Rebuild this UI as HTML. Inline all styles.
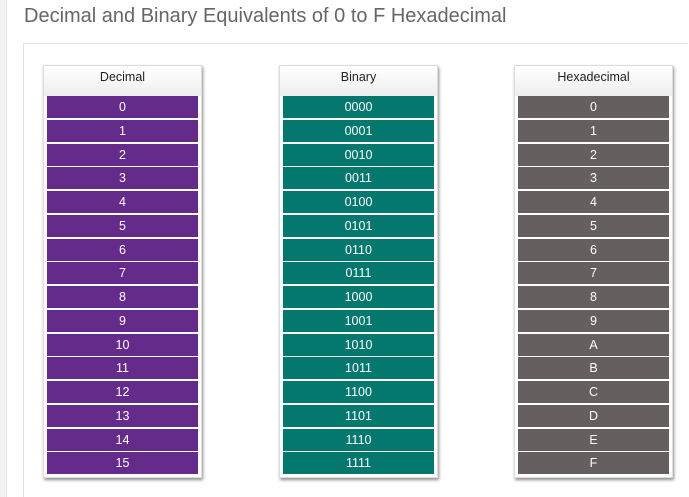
<!DOCTYPE html>
<html><head><meta charset="utf-8"><style>
html,body{margin:0;width:689px;height:497px;overflow:hidden}
body{background:#fff;position:relative;font-family:"Liberation Sans",sans-serif}
#leftline{position:absolute;left:0;top:0;width:6px;height:497px;background:#f3f3f3;border-right:1px solid #e4e4e4}
#title{position:absolute;left:24px;top:5px;font-size:20px;color:#666;white-space:nowrap}
#box{position:absolute;left:23px;top:43px;width:665px;height:454px;border:1px solid #e2e2e2;border-bottom:none;border-right:none;box-sizing:border-box}
.card{position:absolute;top:65px;width:159px;height:413px;background:#fff;box-shadow:1px 2px 3px rgba(0,0,0,.45);border:1px solid #ddd;box-sizing:border-box}
.hdr{position:absolute;left:0;top:0;width:100%;height:30px;background:linear-gradient(#fff,#eee);text-align:center;line-height:22px;font-size:12.5px;color:#222}
.cell{position:absolute;left:3px;width:151px;height:22px;color:#fff;text-align:center;line-height:22px;font-size:12.5px}
</style></head><body>
<div id="leftline"></div>
<div id="title">Decimal and Binary Equivalents of 0 to F Hexadecimal</div>
<div id="box"></div>
<div id="c0" class="card" style="left:43px"><div class="hdr">Decimal</div></div>
<div id="c1" class="card" style="left:279px"><div class="hdr">Binary</div></div>
<div id="c2" class="card" style="left:514px"><div class="hdr">Hexadecimal</div></div>
<script>
const decimals=["0","1","2","3","4","5","6","7","8","9","10","11","12","13","14","15"];
const binaries=["0000","0001","0010","0011","0100","0101","0110","0111","1000","1001","1010","1011","1100","1101","1110","1111"];
const hexes=["0","1","2","3","4","5","6","7","8","9","A","B","C","D","E","F"];
const cols=[[decimals,"#652b8b","decimal"],[binaries,"#04786f","binary"],[hexes,"#655f5f","hex"]];
cols.forEach((c,ci)=>{
  const card=document.getElementById('c'+ci);
  c[0].forEach((v,i)=>{
    const d=document.createElement('div');
    d.className='cell';
    d.style.top=(30+i*23.75)+'px';
    d.style.background=c[1];
    d.textContent=v;
    
    
    card.appendChild(d);
  });
});
</script>
</body></html>
